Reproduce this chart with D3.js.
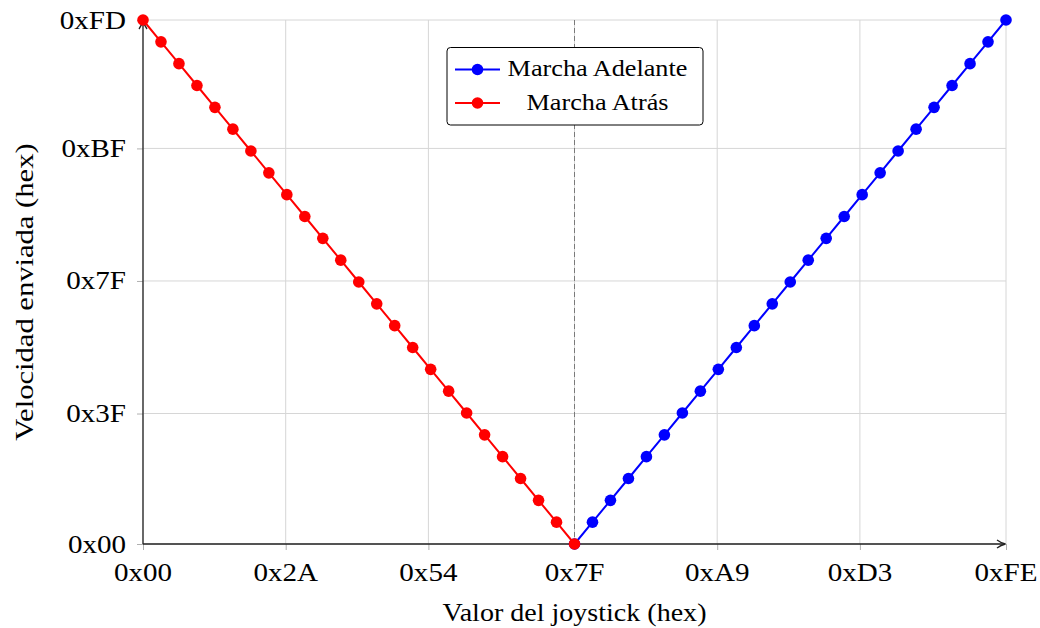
<!DOCTYPE html>
<html>
<head>
<meta charset="utf-8">
<script src="https://cdn.jsdelivr.net/npm/d3@7"></script>
<style>
  html, body { margin: 0; padding: 0; background: #fff; }
  svg { display: block; }
  text { font-family: "Liberation Serif", "Times New Roman", serif; fill: #000; }
</style>
</head>
<body>
<svg id="chart" width="1040" height="628"></svg>
<script>
// ---- data ----
const adelanteX = [127, 132.29, 137.58, 142.88, 148.17, 153.46, 158.75, 164.04, 169.33, 174.63, 179.92, 185.21, 190.5, 195.79, 201.08, 206.38, 211.67, 216.96, 222.25, 227.54, 232.83, 238.13, 243.42, 248.71, 254];
const adelanteY = [0, 10.54, 21.08, 31.63, 42.17, 52.71, 63.25, 73.79, 84.33, 94.88, 105.42, 115.96, 126.5, 137.04, 147.58, 158.13, 168.67, 179.21, 189.75, 200.29, 210.83, 221.38, 231.92, 242.46, 253];
const atrasX = [0, 5.29, 10.58, 15.88, 21.17, 26.46, 31.75, 37.04, 42.33, 47.63, 52.92, 58.21, 63.5, 68.79, 74.08, 79.38, 84.67, 89.96, 95.25, 100.54, 105.83, 111.13, 116.42, 121.71, 127];
const atrasY = [253, 242.46, 231.92, 221.38, 210.83, 200.29, 189.75, 179.21, 168.67, 158.13, 147.58, 137.04, 126.5, 115.96, 105.42, 94.88, 84.33, 73.79, 63.25, 52.71, 42.17, 31.63, 21.08, 10.54, 0];
const xTickValues = [0, 42, 84, 127, 169, 211, 254];
const xTickLabels = ["0x00", "0x2A", "0x54", "0x7F", "0xA9", "0xD3", "0xFE"];
const yTickValues = [0, 63, 127, 191, 253];
const yTickLabels = ["0x00", "0x3F", "0x7F", "0xBF", "0xFD"];
const seriesNames = ["Marcha Adelante", "Marcha Atrás"];
const seriesColors = ["#0000ff", "#ff0000"];
const xTitle = "Valor del joystick (hex)";
const yTitle = "Velocidad enviada (hex)";
const centerLine = 127;

// ---- layout ----
const L = 143, R = 1006, T = 20, B = 544;
const svg = d3.select("#chart");
const x = d3.scaleLinear().domain([0, 254]).range([L, R]);
const y = d3.scaleLinear().domain([0, 253]).range([B, T]);

function stext(g, str, px, py, size, sx, anchor, rot) {
  const t = g.append("text")
    .attr("transform", `translate(${px},${py})` + (rot ? ` rotate(${rot})` : "") + ` scale(${sx},1)`)
    .attr("font-size", size)
    .attr("text-anchor", anchor)
    .text(str);
  return t;
}

// grid
const gridColor = "#d6d6d6";
const grid = svg.append("g");
grid.selectAll("line.vx").data(xTickValues).join("line")
  .attr("x1", d => x(d)).attr("x2", d => x(d)).attr("y1", T).attr("y2", B)
  .attr("stroke", gridColor).attr("stroke-width", 1);
grid.selectAll("line.hy").data(yTickValues).join("line")
  .attr("x1", L).attr("x2", R).attr("y1", d => y(d)).attr("y2", d => y(d))
  .attr("stroke", gridColor).attr("stroke-width", 1);

// axes via d3 (ticks only, outward)
const xAxis = d3.axisBottom(x).tickValues(xTickValues).tickSize(6).tickFormat("");
const yAxis = d3.axisLeft(y).tickValues(yTickValues).tickSize(6).tickFormat("");
const gx = svg.append("g").attr("transform", `translate(0,${B})`).call(xAxis);
const gy = svg.append("g").attr("transform", `translate(${L},0)`).call(yAxis);
[gx, gy].forEach(g => {
  g.select(".domain").remove();
  g.selectAll(".tick line").attr("stroke", "#b0b0b0").attr("stroke-width", 1);
});

// tick labels
const lab = svg.append("g");
xTickValues.forEach((v, i) => stext(lab, xTickLabels[i], x(v), 581, 25.5, 1.14, "middle"));
yTickValues.forEach((v, i) => stext(lab, yTickLabels[i], 126, y(v) + 8.5, 25.5, 1.14, "end"));

// axis titles
stext(lab, xTitle, (L + R) / 2, 620.5, 25.5, 1.1, "middle");
stext(lab, yTitle, 33, (T + B) / 2 + 10, 25.5, 1.2, "middle", -90);

// dashed center line
svg.append("line")
  .attr("x1", x(centerLine)).attr("x2", x(centerLine)).attr("y1", T).attr("y2", B)
  .attr("stroke", "#7a7a7a").attr("stroke-width", 1).attr("stroke-dasharray", "5,3");

// axis lines with arrows
svg.append("line").attr("x1", L).attr("x2", R - 1).attr("y1", B).attr("y2", B)
  .attr("stroke", "#222").attr("stroke-width", 1.3);
svg.append("line").attr("x1", L).attr("x2", L).attr("y1", B).attr("y2", T + 1)
  .attr("stroke", "#222").attr("stroke-width", 1.3);
svg.append("path")
  .attr("d", `M${R - 9},${B - 4} Q${R - 5},${B - 1} ${R - 0.5},${B} Q${R - 5},${B + 1} ${R - 9},${B + 4}`)
  .attr("fill", "none").attr("stroke", "#222").attr("stroke-width", 1.3);
svg.append("path")
  .attr("d", `M${L - 4},${T + 9} Q${L - 1},${T + 5} ${L},${T + 0.5} Q${L + 1},${T + 5} ${L + 4},${T + 9}`)
  .attr("fill", "none").attr("stroke", "#222").attr("stroke-width", 1.3);

// series
const series = [
  { xs: adelanteX, ys: adelanteY, color: seriesColors[0] },
  { xs: atrasX, ys: atrasY, color: seriesColors[1] }
];
const line = d3.line().x(d => x(d[0])).y(d => y(d[1]));
series.forEach(s => {
  const pts = s.xs.map((v, i) => [v, s.ys[i]]);
  const g = svg.append("g");
  g.append("path").attr("d", line(pts)).attr("fill", "none")
    .attr("stroke", s.color).attr("stroke-width", 2);
  g.selectAll("circle").data(pts).join("circle")
    .attr("cx", d => x(d[0])).attr("cy", d => y(d[1])).attr("r", 5.8)
    .attr("fill", s.color);
});

// legend
const lg = svg.append("g");
lg.append("rect").attr("x", 447).attr("y", 47.5).attr("width", 256).attr("height", 77.5)
  .attr("rx", 3.5).attr("fill", "#fff").attr("stroke", "#000").attr("stroke-width", 1);
seriesNames.forEach((name, i) => {
  const cy = 69.5 + i * 33.5;
  lg.append("line").attr("x1", 455).attr("x2", 500).attr("y1", cy).attr("y2", cy)
    .attr("stroke", seriesColors[i]).attr("stroke-width", 2);
  lg.append("circle").attr("cx", 477.5).attr("cy", cy).attr("r", 5.8).attr("fill", seriesColors[i]);
  stext(lg, name, 597.5, cy + 6.5, 23, 1.14, "middle");
});
</script>
</body>
</html>
